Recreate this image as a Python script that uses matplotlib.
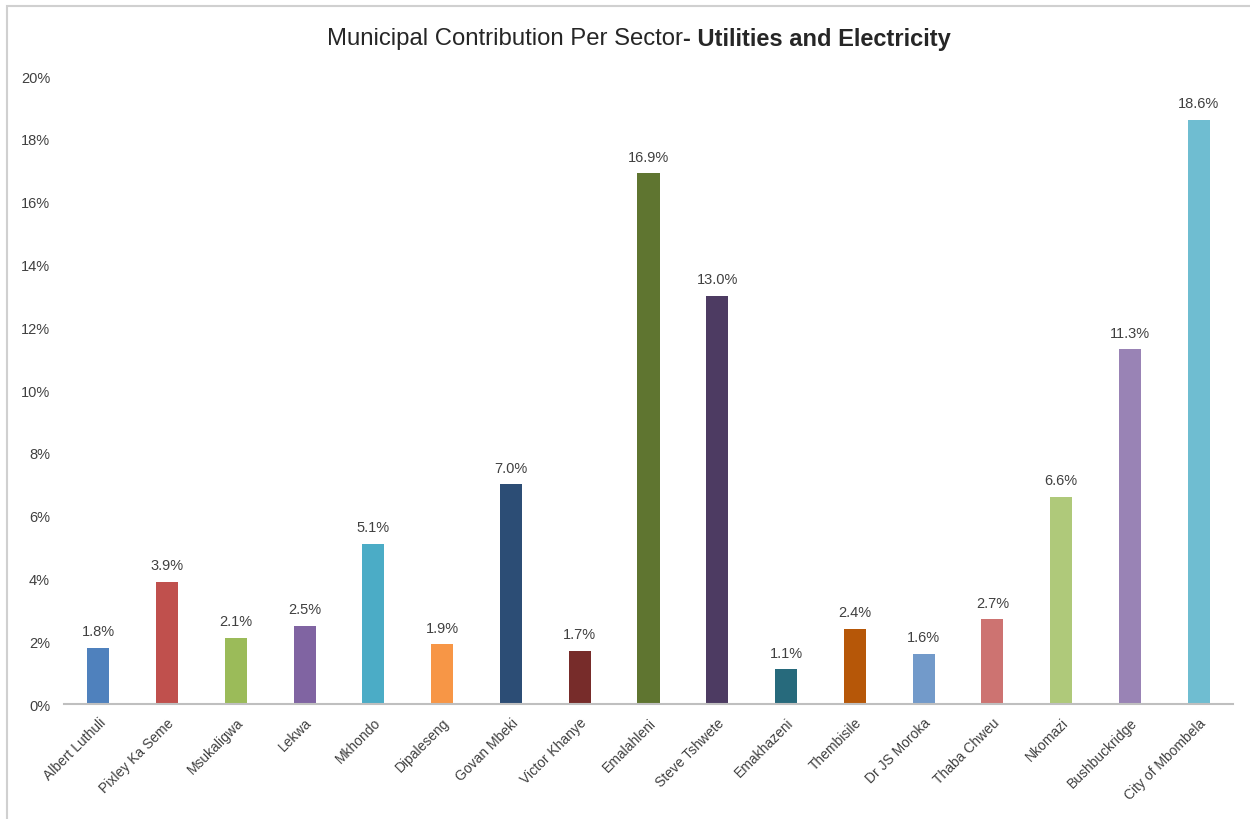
import matplotlib
matplotlib.use("Agg")
import matplotlib.pyplot as plt
import matplotlib.patches as mpatches
from matplotlib.ticker import PercentFormatter

municipalities = [
    "Albert Luthuli", "Pixley Ka Seme", "Msukaligwa", "Lekwa", "Mkhondo",
    "Dipaleseng", "Govan Mbeki", "Victor Khanye", "Emalahleni", "Steve Tshwete",
    "Emakhazeni", "Thembisile", "Dr JS Moroka", "Thaba Chweu", "Nkomazi",
    "Bushbuckridge", "City of Mbombela",
]
share_pct = [1.8, 3.9, 2.1, 2.5, 5.1, 1.9, 7.0, 1.7, 16.9, 13.0,
             1.1, 2.4, 1.6, 2.7, 6.6, 11.3, 18.6]
bar_colors = [
    "#4F81BD", "#C0504D", "#9BBB59", "#8064A2", "#4BACC6", "#F79646",
    "#2C4D75", "#772C2A", "#5F7530", "#4D3B62", "#276A7C", "#B65708",
    "#729ACA", "#CD7371", "#AFC97A", "#9983B5", "#6FBDD1",
]
y_ticks = [0, 2, 4, 6, 8, 10, 12, 14, 16, 18, 20]

plt.rcParams["font.family"] = ["Liberation Sans", "DejaVu Sans"]
TEXT = "#404040"

fig = plt.figure(figsize=(12.5, 8.2), dpi=100)
ax = fig.add_axes([0.0512, 0.1402, 0.9352, 0.7658])

x = range(len(municipalities))
bars = ax.bar(x, share_pct, width=0.32, color=bar_colors)
for b, v in zip(bars, share_pct):
    ax.annotate(f"{v:.1f}%", (b.get_x() + b.get_width() / 2, v),
                xytext=(0, 7), textcoords="offset points",
                ha="center", va="bottom", fontsize=10.5, color=TEXT)

ax.set_xlim(-0.5, len(municipalities) - 0.5)
ax.set_ylim(0, 20)
ax.set_yticks(y_ticks)
ax.yaxis.set_major_formatter(PercentFormatter(decimals=0))
ax.set_xticks(list(x))
ax.set_xticklabels(municipalities, rotation=45, ha="right",
                   rotation_mode="anchor", fontsize=10, color=TEXT)
ax.tick_params(axis="y", length=0, pad=10, labelsize=10.5, labelcolor=TEXT)
ax.tick_params(axis="x", length=0, pad=8)
for side in ["top", "right", "left"]:
    ax.spines[side].set_visible(False)
ax.spines["bottom"].set_color("#BFBFBF")
ax.spines["bottom"].set_linewidth(1.5)

# title: plain part + bold part
fig.text(0.5465, 0.952, "Municipal Contribution Per Sector", ha="right",
         va="center", fontsize=17.2, color="#262626")
fig.text(0.5465, 0.952, "- Utilities and Electricity", ha="left",
         va="center", fontsize=17, fontweight="bold", color="#262626")

# light chart-area border (cropped at right/bottom)
border = mpatches.Rectangle((0.0058, -0.1), 1.2, 0.991 + 0.1,
                            transform=fig.transFigure, fill=False,
                            edgecolor="#D0D0D0", linewidth=1.5)
fig.patches.append(border)

fig.savefig("out.png", dpi=100)
